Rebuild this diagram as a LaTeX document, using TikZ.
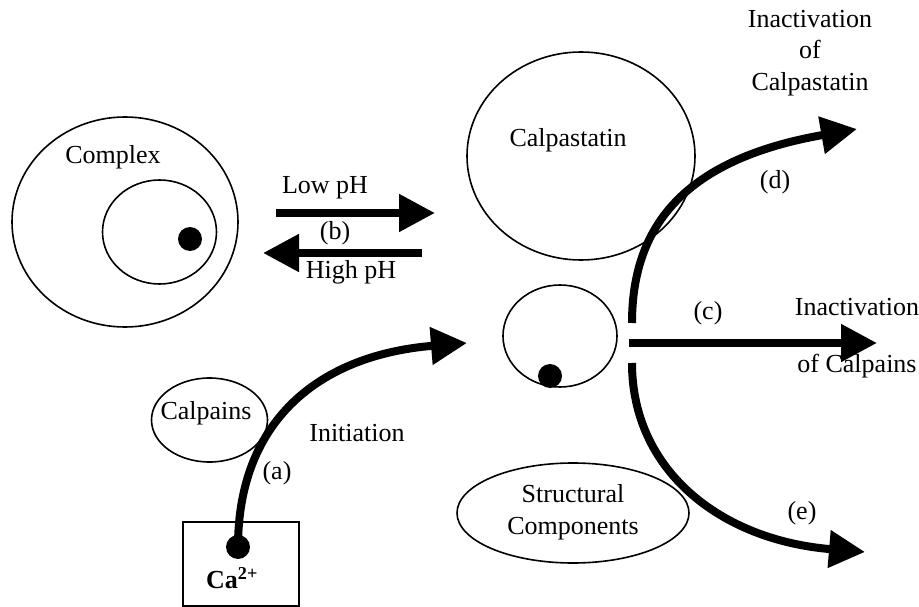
\documentclass[tikz,border=0pt]{standalone}
\usepackage{fontspec}
\setmainfont{Liberation Serif}
\usetikzlibrary{arrows.meta}
\tikzset{
  outl/.style={draw, line width=1.6pt},
  lbl/.style={font=\fontsize{26}{31.5}\selectfont, inner sep=0pt, align=center},
  bigarrow/.style={line width=8pt, -{Triangle[length=36pt,width=36pt]}},
  dotc/.style={fill=black, circle, inner sep=0pt, minimum size=24pt}
}
\begin{document}
\begin{tikzpicture}[x=1pt,y=-1pt]
\useasboundingbox (0,0) rectangle (919,607);
% Complex
\draw[outl] (125,222) ellipse [x radius=113, y radius=105];
\draw[outl] (159.5,232) ellipse [x radius=57, y radius=52];
\node[dotc] (cdot) at (190,239) {};
\node[lbl] (complex) at (113,157) {Complex};
% Calpastatin
\draw[outl] (581,156) ellipse [x radius=114, y radius=104];
\node[lbl] (calpast) at (568,140) {Calpastatin};
% small circle
\draw[outl] (560,336) ellipse [x radius=57, y radius=51];
\node[dotc] (sdot) at (550,376) {};
% Calpains
\draw[outl] (209.5,420) ellipse [x radius=58, y radius=42];
\node[lbl] (calpains) at (206,413) {Calpains};
% Structural components
\draw[outl] (573,513) ellipse [x radius=116, y radius=50];
\node[lbl] (struct) at (573,512) {Structural\\Components};
% Ca box
\node[draw, line width=1.6pt, minimum width=116pt, minimum height=84pt, inner sep=0pt] (cabox) at (241,564) {};
\node[dotc] (cadot) at (238,547) {};
\node[lbl, font=\fontsize{26}{31.5}\selectfont\bfseries] (ca) at (232,578) {Ca\textsuperscript{2+}};
% coordinates
\coordinate (lowS) at (276,213);
\coordinate (lowE) at (435,213);
\coordinate (highS) at (422,253);
\coordinate (highE) at (263,253);
\coordinate (aEnd) at (467,343);
\coordinate (dS) at (632,323);
\coordinate (dE) at (857,129);
\coordinate (eS) at (632,363);
\coordinate (eE) at (865,552);
\coordinate (cS) at (629,343);
\coordinate (cE) at (877,343);
% arrows
\draw[bigarrow] (lowS) -- (lowE);
\draw[bigarrow] (highS) -- (highE);
\draw[bigarrow] (cadot.center) .. controls (238,420) and (320,355) .. (aEnd);
\draw[bigarrow] (dS) .. controls (632,230) and (680,160) .. (dE);
\draw[bigarrow] (eS) .. controls (632,470) and (720,540) .. (eE);
\draw[bigarrow] (cS) -- (cE);
% labels
\node[lbl] (lowpH) at (325,188) {Low pH};
\node[lbl] (b) at (335,233) {(b)};
\node[lbl] (highpH) at (351,272) {High pH};
\node[lbl] (init) at (357,433) {Initiation};
\node[lbl] (a) at (277,473) {(a)};
\node[lbl] (inactC) at (810,53) {Inactivation\\of\\Calpastatin};
\node[lbl] (d) at (775,182) {(d)};
\node[lbl] (c) at (708,313) {(c)};
\node[lbl] (inact) at (857,307) {Inactivation};
\node[lbl] (ofcal) at (857,366) {of Calpains};
\node[lbl] (e) at (802,513) {(e)};
\end{tikzpicture}
\end{document}
